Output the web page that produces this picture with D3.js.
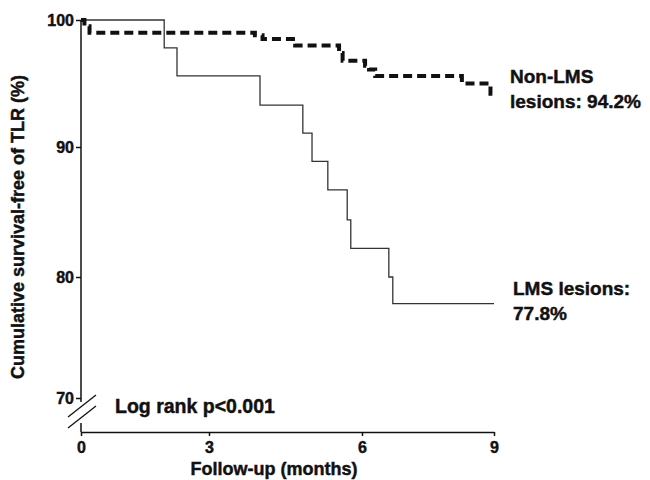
<!DOCTYPE html>
<html>
<head>
<meta charset="utf-8">
<script src="https://cdn.jsdelivr.net/npm/d3@7"></script>
<style>
  body { margin: 0; background: #fff; }
  text { font-family: "Liberation Sans", Arial, sans-serif; font-weight: bold; fill: #111; stroke: #111; stroke-width: 0.45px; }
</style>
</head>
<body>
<div id="canvas"></div>
<script>
// months, survival free of TLR (%)
const lmsTime = [0, 1.95, 2.25, 4.0, 4.84, 5.02, 5.33, 5.71, 5.78, 6.61, 6.70, 9];
const lmsSurv = [100, 97.8, 95.6, 93.3, 91.1, 88.9, 86.7, 84.4, 82.2, 80.0, 77.8, 77.8];

const nonLmsTime = [0, 0.08, 0.2, 3.9, 4.05, 4.69, 5.55, 5.62, 6.07, 6.16, 6.3, 8.27, 8.92, 9];
const nonLmsSurv = [100, 99.5, 99.0, 98.8, 98.5, 98.0, 97.4, 96.8, 96.4, 96.1, 95.6, 95.0, 94.2, 94.2];

const xTicks = [0, 3, 6, 9];
const yTicks = [70, 80, 90, 100];

const width = 650;
const height = 480;

const svg = d3.select("#canvas").append("svg").attr("width", width).attr("height", height);

// the printed axes are not quite even, so map tick to tick
const x = d3.scaleLinear().domain(xTicks).range([81, 209, 362, 494]);
const y = d3.scaleLinear().domain(yTicks).range([398, 277, 147, 20]);
const axisY = 432;

// y axis (ticks + broken line)
const gy = svg.append("g").attr("transform", `translate(${x(0)},0)`)
  .call(d3.axisLeft(y).tickValues(yTicks).tickSize(5).tickPadding(2));
gy.select(".domain").remove();
gy.selectAll(".tick line").attr("stroke", "#111").attr("stroke-width", 1.5);
gy.selectAll(".tick text").style("font-size", "16px").attr("dy", "0.35em");

svg.append("line").attr("x1", x(0)).attr("x2", x(0)).attr("y1", y(100)).attr("y2", y(70) + 4)
  .attr("stroke", "#111").attr("stroke-width", 1.5);
svg.append("line").attr("x1", x(0)).attr("x2", x(0)).attr("y1", y(70) + 25).attr("y2", axisY)
  .attr("stroke", "#111").attr("stroke-width", 1.5);
[0, 11].forEach((o) => {
  svg.append("line")
    .attr("x1", x(0) - 13).attr("y1", y(70) + 19 + o)
    .attr("x2", x(0) + 15).attr("y2", y(70) - 3 + o)
    .attr("stroke", "#111").attr("stroke-width", 1.3);
});

// x axis
const gx = svg.append("g").attr("transform", `translate(0,${axisY})`)
  .call(d3.axisBottom(x).tickValues(xTicks).tickSize(4).tickSizeOuter(0).tickPadding(6));
gx.select(".domain").attr("stroke", "#111").attr("stroke-width", 1.5);
gx.selectAll(".tick line").attr("stroke", "#111").attr("stroke-width", 1.5);
gx.selectAll(".tick text").style("font-size", "16px");

// curves
const line = d3.line().x((d) => x(d[0])).y((d) => y(d[1])).curve(d3.curveStepAfter);

svg.append("path")
  .datum(lmsTime.map((t, i) => [t, lmsSurv[i]]))
  .attr("d", line)
  .attr("fill", "none")
  .attr("stroke", "#333")
  .attr("stroke-width", 1.3);

svg.append("path")
  .datum(nonLmsTime.map((t, i) => [t, nonLmsSurv[i]]))
  .attr("d", line)
  .attr("fill", "none")
  .attr("stroke", "#111")
  .attr("stroke-width", 4)
  .attr("stroke-dasharray", "9,5");

// labels
svg.append("text").attr("x", 510).attr("y", 83).style("font-size", "19px").text("Non-LMS");
svg.append("text").attr("x", 510).attr("y", 108).style("font-size", "19px").text("lesions: 94.2%");
svg.append("text").attr("x", 513).attr("y", 295).style("font-size", "19px").text("LMS lesions:");
svg.append("text").attr("x", 513).attr("y", 320).style("font-size", "19px").text("77.8%");

svg.append("text").attr("x", 115).attr("y", 413).style("font-size", "19.5px").text("Log rank p<0.001");

svg.append("text").attr("x", 274).attr("y", 475).attr("text-anchor", "middle")
  .style("font-size", "18px").text("Follow-up (months)");

svg.append("text").attr("transform", "translate(24,227) rotate(-90)").attr("text-anchor", "middle")
  .style("font-size", "18px").text("Cumulative survival-free of TLR (%)");
</script>
</body>
</html>
